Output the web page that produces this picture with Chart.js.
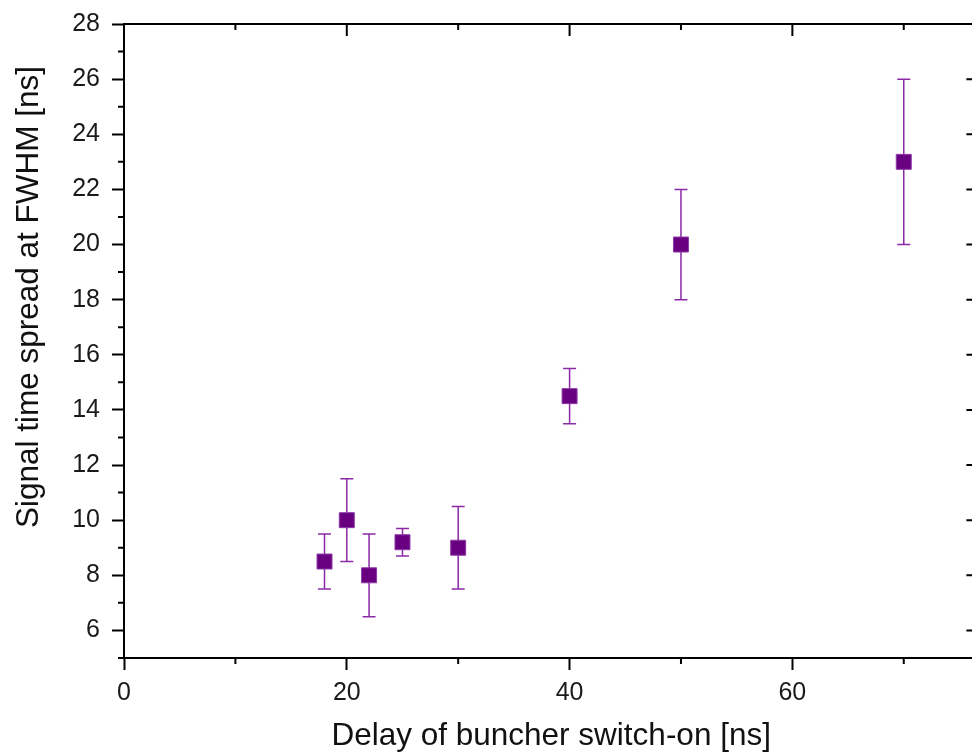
<!DOCTYPE html>
<html>
<head>
<meta charset="utf-8">
<title>Signal time spread vs buncher delay</title>
<script src="https://cdn.jsdelivr.net/npm/chart.js@4"></script>
<style>
  html, body { margin: 0; padding: 0; background: #fff; overflow: hidden; }
  #wrap { width: 972px; height: 753px; overflow: hidden; position: relative; }
  #chart { display: block; }
</style>
</head>
<body>
<div id="wrap"><canvas id="chart" width="990" height="753"></canvas></div>
<script>
// measured points
const delay = [18, 20, 22, 25, 30, 40, 50, 70];
const spread = [8.5, 10, 8, 9.2, 9, 14.5, 20, 23];
const spreadErr = [1, 1.5, 1.5, 0.5, 1.5, 1, 2, 3];

const xMajor = [0, 20, 40, 60];
const xMinor = [10, 30, 50, 70];
const yMajor = [6, 8, 10, 12, 14, 16, 18, 20, 22, 24, 26, 28];
const yMinor = [5, 7, 9, 11, 13, 15, 17, 19, 21, 23, 25, 27];

const xTitle = 'Delay of buncher switch-on [ns]';
const yTitle = 'Signal time spread at FWHM [ns]';

const markerFill = '#690080';
const markerEdge = '#8d3aa8';
const barColor = '#8a2aa6';
const font = "'Liberation Sans', Arial, sans-serif";

const errorBars = {
  id: 'errorBars',
  beforeDatasetsDraw(chart) {
    const { ctx, scales: { x, y } } = chart;
    ctx.save();
    ctx.strokeStyle = barColor;
    ctx.lineWidth = 1.5;
    delay.forEach((d, i) => {
      const px = x.getPixelForValue(d);
      const top = y.getPixelForValue(spread[i] + spreadErr[i]);
      const bot = y.getPixelForValue(spread[i] - spreadErr[i]);
      ctx.beginPath();
      ctx.moveTo(px, top); ctx.lineTo(px, bot);
      ctx.moveTo(px - 6.5, top); ctx.lineTo(px + 6.5, top);
      ctx.moveTo(px - 6.5, bot); ctx.lineTo(px + 6.5, bot);
      ctx.stroke();
    });
    ctx.restore();
  }
};

// frame + minor ticks + inward ticks on top/right, and the y title
// (the original's y title sits above the axis centre, so it is drawn by hand)
const frameTicks = {
  id: 'frameTicks',
  afterDraw(chart) {
    const { ctx, chartArea: a, scales: { x, y } } = chart;
    ctx.save();
    ctx.strokeStyle = '#000';
    ctx.lineWidth = 2;
    ctx.strokeRect(a.left, a.top, a.right - a.left, a.bottom - a.top);
    ctx.beginPath();
    xMinor.forEach(v => {
      const px = x.getPixelForValue(v);
      ctx.moveTo(px, a.bottom); ctx.lineTo(px, a.bottom + 6);
      ctx.moveTo(px, a.top); ctx.lineTo(px, a.top + 6);
    });
    xMajor.forEach(v => {
      const px = x.getPixelForValue(v);
      ctx.moveTo(px, a.top); ctx.lineTo(px, a.top + 12);
    });
    yMinor.forEach(v => {
      const py = y.getPixelForValue(v);
      ctx.moveTo(a.left, py); ctx.lineTo(a.left - 6, py);
      ctx.moveTo(a.right, py); ctx.lineTo(a.right - 6, py);
    });
    yMajor.forEach(v => {
      const py = y.getPixelForValue(v);
      ctx.moveTo(a.right, py); ctx.lineTo(a.right - 12, py);
    });
    ctx.stroke();

    ctx.translate(29, 297);
    ctx.rotate(-Math.PI / 2);
    ctx.fillStyle = '#111';
    ctx.font = '31.5px ' + font;
    ctx.textAlign = 'center';
    ctx.textBaseline = 'middle';
    ctx.fillText(yTitle, 0, 0);
    ctx.restore();
  }
};

new Chart(document.getElementById('chart'), {
  type: 'scatter',
  data: {
    datasets: [{
      data: delay.map((d, i) => ({ x: d, y: spread[i] })),
      pointStyle: 'rect',
      pointRadius: 10.6,
      pointHoverRadius: 10.6,
      backgroundColor: markerFill,
      borderColor: markerEdge,
      borderWidth: 1
    }]
  },
  options: {
    responsive: false,
    animation: false,
    layout: { padding: { top: 24, right: 10, left: 0, bottom: 0 } },
    plugins: { legend: { display: false }, tooltip: { enabled: false } },
    scales: {
      x: {
        type: 'linear',
        min: 0,
        max: 76.7,
        afterBuildTicks: s => { s.ticks = xMajor.map(v => ({ value: v })); },
        afterFit: s => { s.height = 95; s.paddingLeft = 0; s.paddingRight = 0; },
        grid: { drawOnChartArea: false, tickLength: 12, tickWidth: 2, tickColor: '#000' },
        border: { color: '#000', width: 2 },
        ticks: { color: '#1a1a1a', font: { family: font, size: 25 }, padding: 8, maxRotation: 0 },
        title: {
          display: true,
          text: xTitle,
          color: '#111',
          font: { family: font, size: 31.5 },
          padding: { top: 0, bottom: -2 }
        }
      },
      y: {
        type: 'linear',
        min: 5,
        max: 28,
        afterBuildTicks: s => { s.ticks = yMajor.map(v => ({ value: v })); },
        afterFit: s => { s.width = 124; s.paddingTop = 0; s.paddingBottom = 0; },
        grid: { drawOnChartArea: false, tickLength: 12, tickWidth: 2, tickColor: '#000' },
        border: { color: '#000', width: 2 },
        ticks: { color: '#1a1a1a', font: { family: font, size: 25 }, padding: 12 },
        title: { display: false }
      }
    }
  },
  plugins: [errorBars, frameTicks]
});
</script>
</body>
</html>
